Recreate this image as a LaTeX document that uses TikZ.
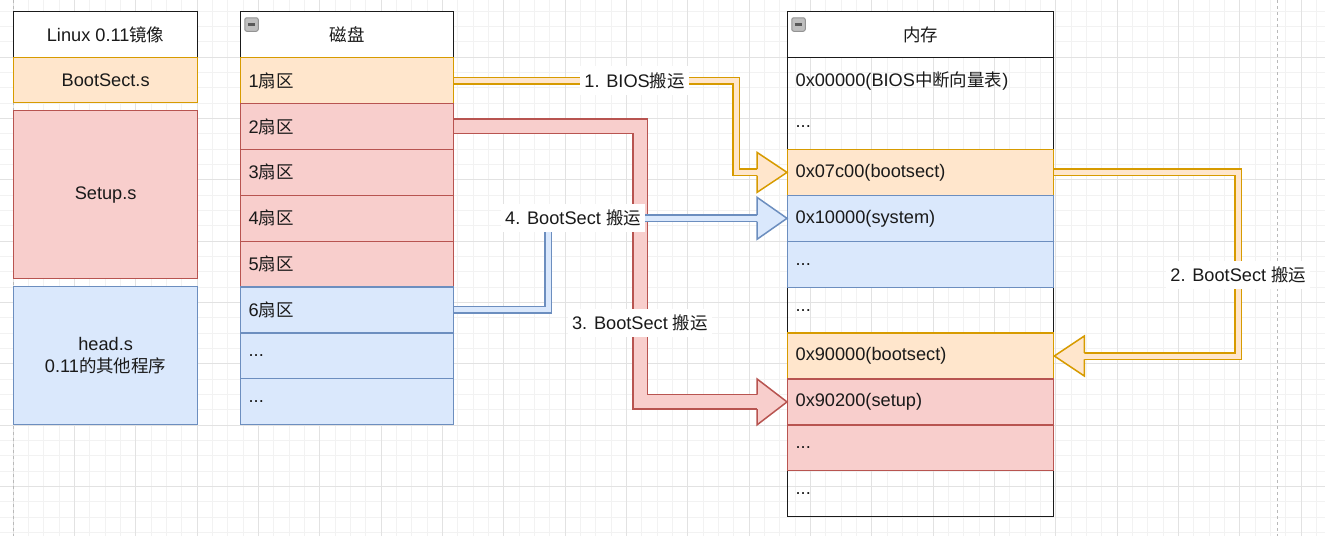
\documentclass[tikz,border=0pt]{standalone}
\usepackage{fontspec}
\setmainfont{Liberation Sans}
\newfontfamily\cjk[Scale=0.96]{Noto Sans CJK SC}
\newcommand{\zh}[1]{{\cjk #1}}
\newcommand{\more}{...}
\usetikzlibrary{calc}

\definecolor{orangefill}{HTML}{FFE6CC}
\definecolor{orangeline}{HTML}{D79B00}
\definecolor{redfill}{HTML}{F8CECC}
\definecolor{redline}{HTML}{B85450}
\definecolor{bluefill}{HTML}{DAE8FC}
\definecolor{blueline}{HTML}{6C8EBF}
\definecolor{textgray}{HTML}{1A1A1A}
\definecolor{gridminor}{HTML}{F2F2F2}
\definecolor{gridmajor}{HTML}{E2E2E2}

\tikzset{
  box/.style={rectangle, draw=textgray, line width=1.3pt, anchor=north west, text=textgray, inner sep=0pt},
  rowbox/.style={box, minimum height=45.9pt, inner xsep=8pt, align=left},
  diskrow/.style={rowbox, minimum width=213pt, text width=197pt},
  memrow/.style={rowbox, minimum width=266pt, text width=250pt},
  orow/.style={fill=orangefill, draw=orangeline},
  rrow/.style={fill=redfill, draw=redline},
  brow/.style={fill=bluefill, draw=blueline},
  wrow/.style={draw=none},
  fold/.style={rectangle, rounded corners=2pt, draw=gray!85, fill=gray!50, line width=1pt, minimum size=13.5pt, inner sep=0pt,
    path picture={\draw[line width=2.2pt, black!65] ([xshift=3pt]path picture bounding box.west) -- ([xshift=-3pt]path picture bounding box.east);}},
  pipe/.style={line width=1.5pt, line join=miter},
  opipe/.style={pipe, draw=orangeline, double=orangefill, double distance=5pt},
  bpipe/.style={pipe, draw=blueline, double=bluefill, double distance=5pt},
  rpipe/.style={pipe, draw=redline, double=redfill, double distance=13pt},
  lbl/.style={fill=white, text=textgray, inner xsep=4pt, inner ysep=6pt},
  pageline/.style={gray!55, line width=0.8pt, dash pattern=on 3pt off 3pt}
}

\newcommand{\pipehead}[5]{%
  \begin{scope}[shift={(#2)}, xscale=#3]
    \fill[#1fill] (0,0) -- (-30,-#4) -- (-30,#4) -- cycle;
    \draw[#1line, line width=1.5pt, line join=miter] (-30,-#5) -- (-30,-#4) -- (0,0) -- (-30,#4) -- (-30,#5);
  \end{scope}}

\begin{document}
\begin{tikzpicture}[x=1pt, y=-1pt, font=\fontsize{18.2}{22}\selectfont]
    \useasboundingbox[fill=white] (0,0) rectangle (1325,536);
    \foreach \k in {-1,...,86} \draw[gridminor, line width=0.8pt] ({13+15.333*\k},0) -- ({13+15.333*\k},536);
    \foreach \k in {-4,...,32} \draw[gridminor, line width=0.8pt] (0,{57+15.333*\k}) -- (1325,{57+15.333*\k});
    \foreach \k in {0,...,21} \draw[gridmajor, line width=1pt] ({13+61.333*\k},0) -- ({13+61.333*\k},536);
    \foreach \k in {-1,...,7} \draw[gridmajor, line width=1pt] (0,{57+61.333*\k}) -- (1325,{57+61.333*\k});
    \draw[pageline] (13,0) -- (13,536);
    \draw[pageline] (1277,0) -- (1277,536);

    \node[box, fill=white, minimum width=184pt, minimum height=46pt] (image) at (13,11) {Linux 0.11\zh{镜像}};
    \node[box, orow, minimum width=184pt, minimum height=45pt] (bootsrc) at (13,57) {BootSect.s};
    \node[box, rrow, minimum width=184pt, minimum height=168pt] (setupsrc) at (13,110) {Setup.s};
    \node[box, brow, minimum width=184pt, minimum height=138pt, align=center] (headsrc) at (13,286) {head.s\\0.11\zh{的其他程序}};

    \node[box, minimum width=213pt, minimum height=413pt] (disk) at (240,11) {};
    \node[box, fill=white, minimum width=213pt, minimum height=46pt] (diskhead) at (240,11) {\zh{磁盘}};
    \node[fold] (diskfold) at ([shift={(11.5,13.5)}]diskhead.north west) {};
    \foreach \i/\txt/\kind in {1/1\zh{扇区}/orow, 2/2\zh{扇区}/rrow, 3/3\zh{扇区}/rrow, 4/4\zh{扇区}/rrow,
        5/5\zh{扇区}/rrow, 6/6\zh{扇区}/brow, 7/\more/brow, 8/\more/brow}
        \node[diskrow, \kind] (d\i) at (240,{57+45.875*(\i-1)}) {\txt};

    \node[box, minimum width=266pt, minimum height=505pt] (mem) at (787,11) {};
    \node[box, fill=white, minimum width=266pt, minimum height=46pt] (memhead) at (787,11) {\zh{内存}};
    \node[fold] (memfold) at ([shift={(11.5,13.5)}]memhead.north west) {};
    \foreach \i/\txt/\kind in {1/0x00000(BIOS\zh{中断向量表})/wrow, 2/\more/wrow, 3/0x07c00(bootsect)/orow,
        4/0x10000(system)/brow, 5/\more/brow, 6/\more/wrow, 7/0x90000(bootsect)/orow,
        8/0x90200(setup)/rrow, 9/\more/rrow, 10/\more/wrow}
        \node[memrow, \kind] (m\i) at (787,{57+45.9*(\i-1)}) {\txt};

    \draw[opipe] (d1.east) -| node[lbl, pos=0.32] {1. BIOS\zh{搬运}} ($(m3.west)+(-51,0)$) -- ($(m3.west)+(-30,0)$);
    \pipehead{orange}{m3.west}{1}{20}{3.25}

    \draw[opipe] (m3.east) -| node[lbl, pos=0.78] {2. BootSect \zh{搬运}} ($(m7.east)+(184,0)$) -- ($(m7.east)+(30,0)$);
    \pipehead{orange}{m7.east}{-1}{20}{3.25}

    \draw[rpipe] (d2.east) -| node[lbl, pos=0.857] {3. BootSect \zh{搬运}} ($(m8.west)+(-147,0)$) -- ($(m8.west)+(-30,0)$);
    \pipehead{red}{m8.west}{1}{23}{7.25}

    \draw[bpipe] (d6.east) -| ($(m4.west)+(-239,0)$) -- node[lbl, pos=0.12] {4. BootSect \zh{搬运}} ($(m4.west)+(-30,0)$);
    \pipehead{blue}{m4.west}{1}{21}{3.25}
\end{tikzpicture}
\end{document}
